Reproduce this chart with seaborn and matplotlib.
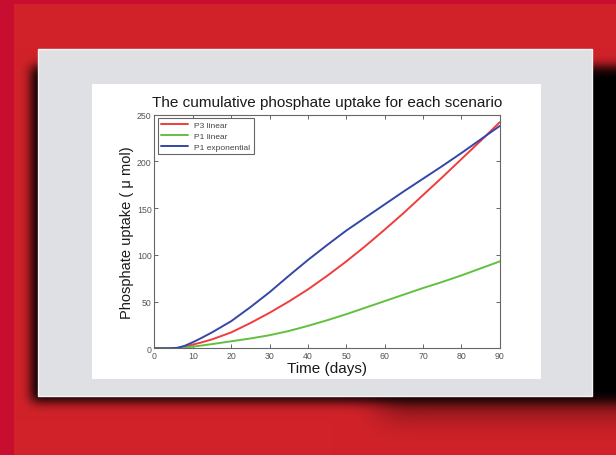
import numpy as np
import pandas as pd
import seaborn as sns
import matplotlib.pyplot as plt
from matplotlib.patches import Rectangle

# values
days = [0, 2, 4, 6, 8, 10, 12, 15, 20, 25, 30, 35, 40, 45, 50, 55, 60, 65, 70, 75, 80, 85, 90]
p3_linear = [0, 0, 0, 0.4, 1.8, 4, 6, 9.5, 17, 27, 38, 50, 63, 77.5, 93, 109.5, 127, 145, 164, 183, 202.5, 222, 242]
p1_linear = [0, 0, 0, 0.2, 0.8, 1.8, 2.8, 4.5, 7.5, 10.5, 14, 18.5, 24, 30, 36.5, 43.5, 50.5, 57.5, 64.5, 71, 78, 85.5, 93]
p1_exponential = [0, 0, 0, 0.5, 2.8, 6.5, 10.5, 17, 29, 44, 60, 77.5, 94.5, 110.5, 126, 140, 154, 168, 181.5, 195, 209, 223.5, 238]

series_names = ['P3 linear', 'P1 linear', 'P1 exponential']
series_colors = ['#f03c3c', '#62c040', '#3447a8']

df = pd.concat([
    pd.DataFrame({'Time': days, 'Uptake': vals, 'Scenario': name})
    for name, vals in zip(series_names, [p3_linear, p1_linear, p1_exponential])
])

sns.set_theme(style='ticks')
plt.rcParams['font.family'] = ['Liberation Sans', 'DejaVu Sans']

W, H = 616, 456
fig = plt.figure(figsize=(W / 100, H / 100), dpi=100)


# background: red page, blurred shadow, grey card, white plot area
def blur(a, s):
    r = int(3 * s)
    k = np.exp(-0.5 * (np.arange(-r, r + 1) / s) ** 2)
    k /= k.sum()
    a = np.apply_along_axis(lambda v: np.convolve(v, k, mode='same'), 0, a)
    a = np.apply_along_axis(lambda v: np.convolve(v, k, mode='same'), 1, a)
    return a


pad = 60
narrow = np.zeros((H + 2 * pad, W + 2 * pad))
narrow[pad + 66:pad + 404, pad + 30:pad + 660] = 1
narrow = blur(narrow, 6)[pad:-pad, pad:-pad] ** 1.3
broad = np.zeros((H + 2 * pad, W + 2 * pad))
broad[pad + 100:pad + 412, pad + 380:pad + 670] = 1
broad = blur(broad, 16)[pad:-pad, pad:-pad] * 0.55
mask = 1 - (1 - narrow) * (1 - broad)

img = np.zeros((H, W, 3))
img[:] = np.array([209, 34, 41]) / 255
img = img * (1 - mask[..., None])
img[:, :14] = np.array([200, 14, 48]) / 255
img[:5, :] = np.array([200, 14, 48]) / 255

bg = fig.add_axes([0, 0, 1, 1])
bg.imshow(img, extent=[0, W, H, 0], aspect='auto', interpolation='bilinear')
bg.add_patch(Rectangle((38, 50), 554, 347, facecolor='#dfe0e4', edgecolor='#f4f4f4', lw=1))
bg.add_patch(Rectangle((92, 85), 449, 295, facecolor='white', edgecolor='none'))
bg.set_xlim(0, W)
bg.set_ylim(H, 0)
bg.axis('off')

# the chart
ax = fig.add_axes([154.4 / W, 1 - 349.3 / H, 345.4 / W, 233.6 / H])
sns.lineplot(data=df, x='Time', y='Uptake', hue='Scenario', palette=series_colors,
             hue_order=series_names, lw=1.4, ax=ax)

ax.set_xlim(0, 90)
ax.set_ylim(0, 250)
ax.set_xticks(range(0, 91, 10))
ax.set_yticks(range(0, 251, 50))
ax.tick_params(direction='in', length=3, width=0.7, top=True, right=True,
               labelsize=6.3, labelcolor='#555555', colors='#666666', pad=2)
for s in ax.spines.values():
    s.set_visible(True)
    s.set_color('#666666')
    s.set_linewidth(0.8)

ax.set_title('The cumulative phosphate uptake for each scenario', fontsize=11, pad=6, color='#1a1a1a')
ax.set_xlabel('Time (days)', fontsize=11, labelpad=1, color='#1a1a1a')
ax.set_ylabel('Phosphate uptake ( \u03bc mol)', fontsize=10.5, labelpad=2, color='#1a1a1a')

leg = ax.legend(loc='upper left', fontsize=6, frameon=True, fancybox=False,
                edgecolor='#666666', framealpha=1, handlelength=3.2,
                borderaxespad=0.4, labelspacing=0.35, borderpad=0.4)
leg.get_frame().set_linewidth(0.8)
for t in leg.get_texts():
    t.set_color('#444444')

fig.savefig('out.png', dpi=100)
